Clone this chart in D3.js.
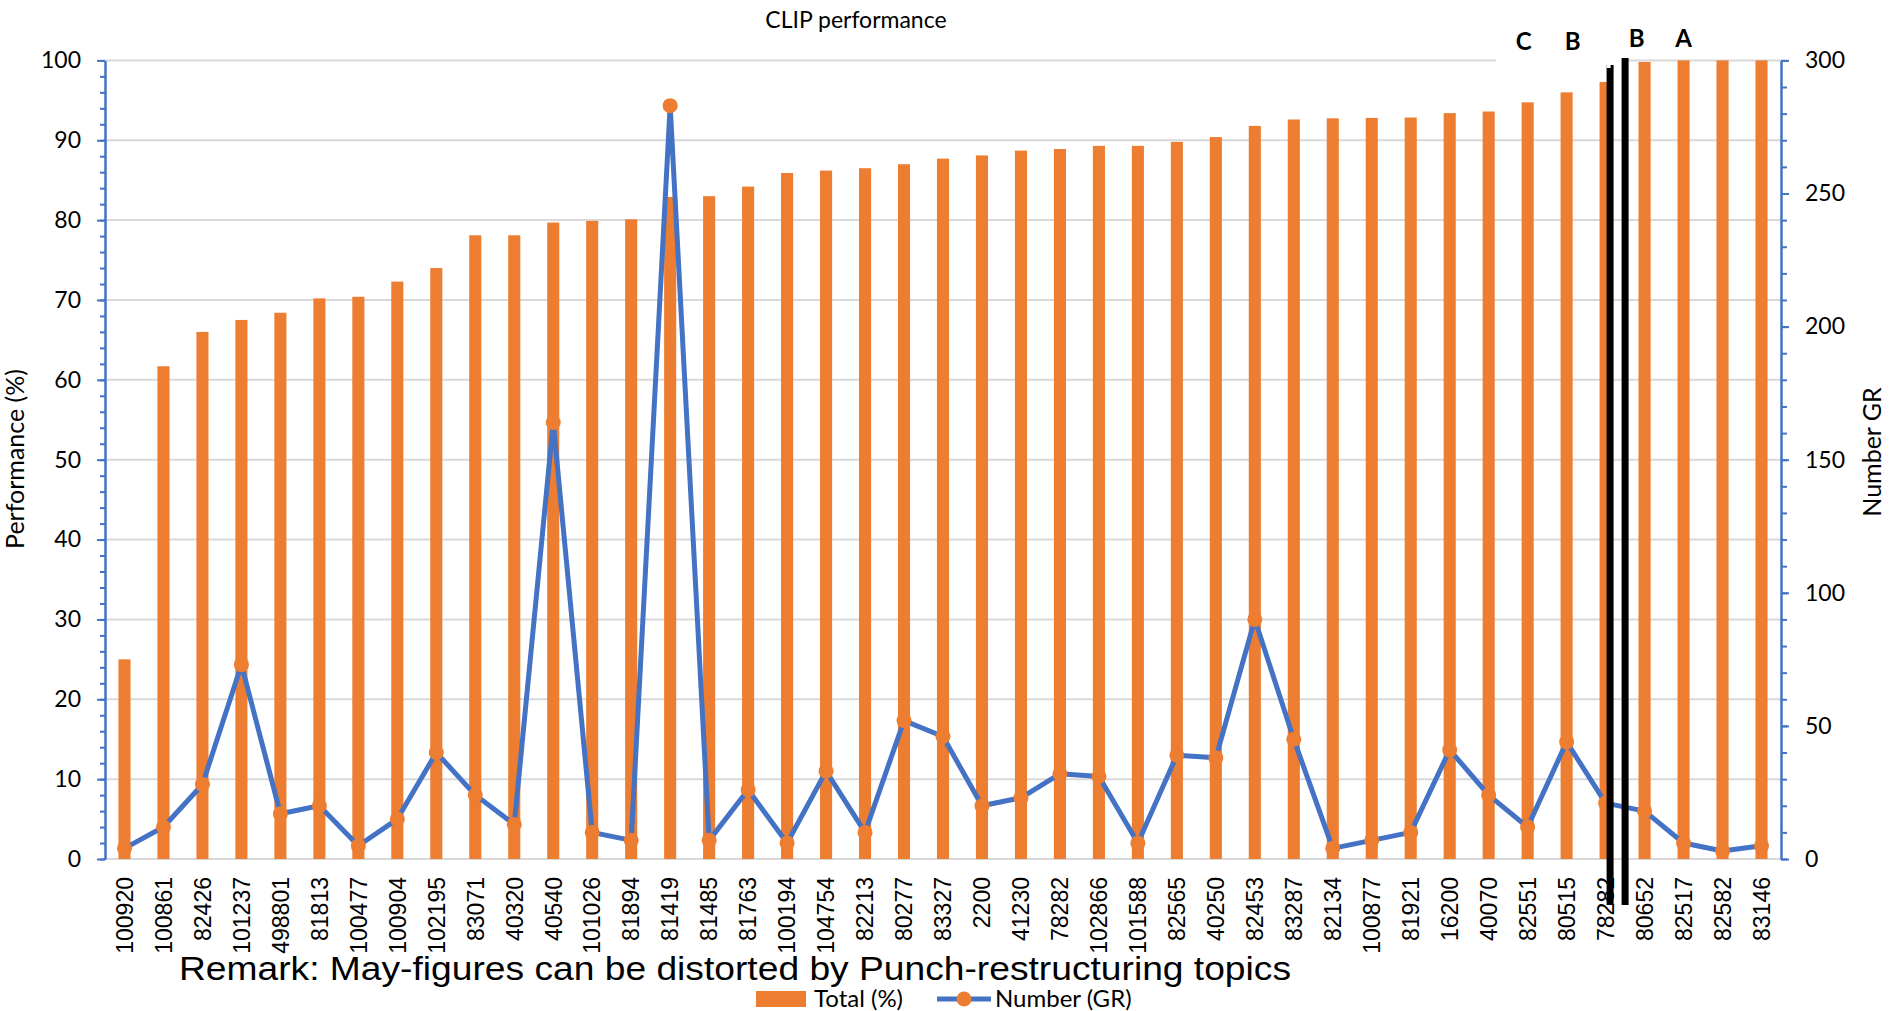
<!DOCTYPE html>
<html>
<head>
<meta charset="utf-8">
<script src="https://cdn.jsdelivr.net/npm/d3@7"></script>
<style>
  html, body { margin: 0; padding: 0; background: #fff; }
  svg { display: block; }
</style>
</head>
<body>
<svg id="chart" width="1895" height="1011"></svg>
<script>
// ---------------- DATA ----------------
const categories = ["100920","100861","82426","101237","498801","81813","100477","100904","102195","83071",
  "40320","40540","101026","81894","81419","81485","81763","100194","104754","82213",
  "80277","83327","2200","41230","78282","102866","101588","82565","40250","82453",
  "83287","82134","100877","81921","16200","40070","82551","80515","78282","80652",
  "82517","82582","83146"];
const totalPct = [25,61.7,66,67.5,68.4,70.2,70.4,72.3,74,78.1,
  78.1,79.7,79.9,80.1,82.9,83,84.2,85.9,86.2,86.5,
  87,87.7,88.1,88.7,88.9,89.3,89.3,89.8,90.4,91.8,
  92.6,92.75,92.8,92.85,93.4,93.6,94.75,96,97.3,99.8,
  100,100,100];
const numberGR = [4,12,28,73,17,20,5,15,40,24,
  13,164,10,7,283,7,26,6,33,10,
  52,46,20,23,32,31,6,39,38,90,
  45,4,7,10,41,24,12,44,21,18,
  6,3,5];
const leftTicks = [0,10,20,30,40,50,60,70,80,90,100];
const rightTicks = [0,50,100,150,200,250,300];
const titleText = "CLIP performance";
const remarkText = "Remark: May-figures can be distorted by Punch-restructuring topics";
const seriesNames = ["Total (%)", "Number (GR)"];
const annotations = [
  {label: "C", after: 36, dx: -4, up: 0},
  {label: "B", after: 37, dx: 6, up: 0},
  {label: "B", after: 38, dx: 31, up: 3},
  {label: "A", after: 40, dx: 0, up: 3}
];

// ---------------- LAYOUT ----------------
const ORANGE = "#ED7D31", BLUE = "#4472C4", GRID = "#d9d9d9";
const plot = {left: 105, right: 1781, top: 60.4, bottom: 859};
const svg = d3.select("#chart");
const idx = d3.range(categories.length);

const x = d3.scaleBand().domain(idx).range([plot.left, plot.right])
  .paddingInner(0.69).paddingOuter(0.345);
const cx = i => x(i) + x.bandwidth() / 2;
const yL = d3.scaleLinear().domain([0, 100]).range([plot.bottom, plot.top]);
const yR = d3.scaleLinear().domain([0, 300]).range([plot.bottom, plot.top]);

const calib = "Lato, 'Open Sans', sans-serif";
const arial = "'Liberation Sans', Arial, sans-serif";

// gridlines
svg.append("g").selectAll("line").data(leftTicks).join("line")
  .attr("x1", plot.left).attr("x2", plot.right)
  .attr("y1", d => yL(d)).attr("y2", d => yL(d))
  .attr("stroke", GRID).attr("stroke-width", 2);

// white box behind C/B labels (covers gridline)
svg.append("rect").attr("x", 1496).attr("y", 20).attr("width", 126).attr("height", 44).attr("fill", "#fff");

// bars
svg.append("g").selectAll("rect").data(idx).join("rect")
  .attr("x", i => x(i)).attr("width", x.bandwidth())
  .attr("y", i => yL(totalPct[i])).attr("height", i => yL(0) - yL(totalPct[i]))
  .attr("fill", ORANGE);

// axes
function styleAxis(g) {
  g.select(".domain").attr("stroke", BLUE).attr("stroke-width", 2);
  g.selectAll(".tick line").attr("stroke", BLUE).attr("stroke-width", 2);
  g.selectAll(".tick text").attr("fill", "#000").style("font-family", calib).style("font-size", "23px");
}
svg.append("g").attr("transform", `translate(${plot.left},0)`)
  .call(d3.axisLeft(yL).tickValues(d3.range(0, 101, 2)).tickSize(5).tickFormat("").tickSizeOuter(0))
  .call(styleAxis);
svg.append("g").attr("transform", `translate(${plot.left},0)`)
  .call(d3.axisLeft(yL).tickValues(leftTicks).tickSize(8).tickPadding(16).tickSizeOuter(0))
  .call(styleAxis);
svg.append("g").attr("transform", `translate(${plot.right},0)`)
  .call(d3.axisRight(yR).tickValues(d3.range(0, 301, 10)).tickSize(6).tickFormat("").tickSizeOuter(0))
  .call(styleAxis);
svg.append("g").attr("transform", `translate(${plot.right},0)`)
  .call(d3.axisRight(yR).tickValues(rightTicks).tickSize(8).tickPadding(16).tickSizeOuter(0))
  .call(styleAxis);

// x labels
svg.append("g").selectAll("text").data(idx).join("text")
  .attr("transform", i => `translate(${cx(i)},877) rotate(-90)`)
  .attr("text-anchor", "end").attr("dy", "0.36em")
  .style("font-family", arial).style("font-size", "23px").attr("fill", "#000")
  .text(i => categories[i]);

// line
svg.append("path").datum(idx)
  .attr("d", d3.line().x(i => cx(i)).y(i => yR(numberGR[i])))
  .attr("fill", "none").attr("stroke", BLUE).attr("stroke-width", 5)
  .attr("stroke-linejoin", "round");
svg.append("g").selectAll("circle").data(idx).join("circle")
  .attr("cx", i => cx(i)).attr("cy", i => yR(numberGR[i])).attr("r", 7.5)
  .attr("fill", ORANGE);

// black divider lines
const step = x.step();
const divX = plot.left + 39 * step; // boundary between band 38 and 39
svg.append("rect").attr("x", divX - 3.5).attr("y", 58).attr("width", 7).attr("height", 905 - 58).attr("fill", "#000");
svg.append("rect").attr("x", divX - 18.5).attr("y", 65).attr("width", 7).attr("height", 905 - 65).attr("fill", "#000");
svg.append("rect").attr("x", divX - 18.5).attr("y", 63).attr("width", 4).attr("height", 5).attr("fill", "#fff");

// annotation letters
svg.append("g").selectAll("text").data(annotations).join("text")
  .attr("x", d => cx(d.after) + d.dx).attr("y", d => 50 - d.up)
  .attr("text-anchor", "middle")
  .style("font-family", calib).style("font-weight", "bold").style("font-size", "24px")
  .attr("fill", "#000").text(d => d.label);

// title
svg.append("text").attr("x", 856).attr("y", 28).attr("text-anchor", "middle")
  .style("font-family", calib).style("font-size", "23px").attr("fill", "#000").text(titleText);

// axis titles
svg.append("text").attr("transform", "translate(24,459) rotate(-90)").attr("text-anchor", "middle")
  .style("font-family", calib).style("font-size", "25px").attr("fill", "#000").text("Performance (%)");
svg.append("text").attr("transform", "translate(1881,452) rotate(-90)").attr("text-anchor", "middle")
  .style("font-family", calib).style("font-size", "25px").attr("fill", "#000").text("Number GR");

// remark
svg.append("text").attr("x", 179).attr("y", 980)
  .attr("textLength", 1112).attr("lengthAdjust", "spacingAndGlyphs")
  .style("font-family", arial).style("font-size", "34px").attr("fill", "#000").text(remarkText);

// legend
const lg = svg.append("g");
lg.append("rect").attr("x", 756).attr("y", 991).attr("width", 50).attr("height", 16).attr("fill", ORANGE);
lg.append("text").attr("x", 814).attr("y", 1007).style("font-family", calib).style("font-size", "24px")
  .attr("fill", "#000").text(seriesNames[0]);
lg.append("line").attr("x1", 937).attr("x2", 991).attr("y1", 999).attr("y2", 999)
  .attr("stroke", BLUE).attr("stroke-width", 5);
lg.append("circle").attr("cx", 964).attr("cy", 999).attr("r", 7.5).attr("fill", ORANGE);
lg.append("text").attr("x", 995).attr("y", 1007).style("font-family", calib).style("font-size", "24px")
  .attr("fill", "#000").text(seriesNames[1]);
</script>
</body>
</html>
